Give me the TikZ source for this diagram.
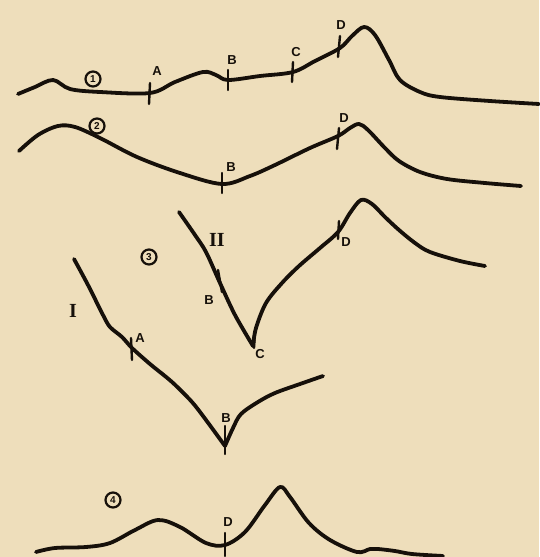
\documentclass[tikz,border=0pt]{standalone}
\usepackage{fontspec}
\setsansfont{Liberation Sans}
\setmainfont{Liberation Serif}
\begin{document}
\begin{tikzpicture}[x=1pt,y=-1pt,
  curve/.style={line width=3.8pt,line cap=round,line join=round,draw=ink},
  tickmark/.style={line width=2.4pt,line cap=round,draw=ink},
  lbl/.style={font=\sffamily\bfseries\fontsize{13}{13}\selectfont,text=ink,inner sep=0pt},
  roman/.style={font=\rmfamily\bfseries\fontsize{20}{20}\selectfont,text=ink,inner sep=0pt},
  num/.style={circle,draw=ink,line width=2.2pt,inner sep=0.4pt,minimum size=15pt,
    font=\sffamily\bfseries\fontsize{10}{10}\selectfont,text=ink}]
\definecolor{paper}{RGB}{238,222,187}
\definecolor{ink}{RGB}{22,16,10}
\fill[paper] (0,0) rectangle (539,557);
\useasboundingbox (0,0) rectangle (539,557);

% curve 1
\draw[curve] plot[smooth,tension=0.55] coordinates {(18,94) (35,87) (53,80) (70,89) (100,92) (150,93) (175,82) (203,72) (216,75) (228,80) (260,76) (293,72) (315,61) (340,48) (352,36) (364,27) (375,35) (389,60) (400,80) (420,92) (440,97) (490,101) (539,104)};
\draw[tickmark] (150,83) -- (149,104);
\draw[tickmark] (228,70) -- (228,90);
\draw[tickmark] (293,62) -- (292,82);
\draw[tickmark] (340,36) -- (338,57);
\node[num] (n1) at (93,79) {1};
\node[lbl] (a1) at (157,71) {A};
\node[lbl] (b1) at (232,60) {B};
\node[lbl] (c1) at (296,52) {C};
\node[lbl] (d1) at (341,25) {D};

% curve 2
\draw[curve] plot[smooth,tension=0.55] coordinates {(19,151) (38,135) (58,126) (75,127) (100,138) (137,157) (180,173) (222,184) (250,176) (275,165) (310,148) (338,136) (350,128) (359,124) (368,130) (385,148) (399,161) (420,172) (447,179) (485,183) (521,186)};
\draw[tickmark] (222,173) -- (222,193);
\draw[tickmark] (339,128) -- (337,149);
\node[num] (n2) at (97,126) {2};
\node[lbl] (b2) at (231,167) {B};
\node[lbl] (d2) at (344,118) {D};

% curve II
\draw[curve] plot[smooth,tension=0.5] coordinates {(179,212) (195,235) (206,252) (220,283) (235,315) (253,346)};
\draw[curve] plot[smooth,tension=0.55] coordinates {(253,346) (256,328) (266,303) (282,283) (299,266) (320,248) (338,232) (350,213) (361,200) (372,204) (385,217) (399,230) (415,243) (430,252) (460,261) (485,266)};
\draw[tickmark] (218,270) -- (222,292);
\draw[tickmark] (255,331) -- (254,348);
\draw[tickmark] (339,221) -- (338,239);
\node[num] (n3) at (149,257) {3};
\node[roman] (r2) at (217,240) {II};
\node[lbl] (b3) at (209,300) {B};
\node[lbl] (c3) at (260,354) {C};
\node[lbl] (d3) at (346,242) {D};

% curve I
\draw[curve] plot[smooth,tension=0.5] coordinates {(74,259) (88,285) (103,315) (110,327) (122,337) (132,348) (150,364) (172,382) (192,402) (206,420) (225,446)};
\draw[curve] plot[smooth,tension=0.55] coordinates {(225,446) (233,428) (241,414) (258,402) (275,393) (300,384) (323,376)};
\draw[tickmark] (131,338) -- (132,360);
\draw[tickmark] (225,426) -- (225,454);
\node[roman] (r1) at (73,311) {I};
\node[lbl] (a3) at (140,338) {A};
\node[lbl] (b4) at (226,418) {B};

% curve 4
\draw[curve] plot[smooth,tension=0.55] coordinates {(36,552) (55,548) (86,547) (110,543) (135,530) (158,520) (180,527) (206,543) (225,545) (245,532) (265,505) (280,487) (290,497) (309,523) (330,540) (357,552) (370,549) (378,549) (395,551) (412,554) (443,556)};
\draw[tickmark] (225,533) -- (225,556);
\node[num] (n4) at (113,500) {4};
\node[lbl] (d4) at (228,522) {D};
\end{tikzpicture}
\end{document}
